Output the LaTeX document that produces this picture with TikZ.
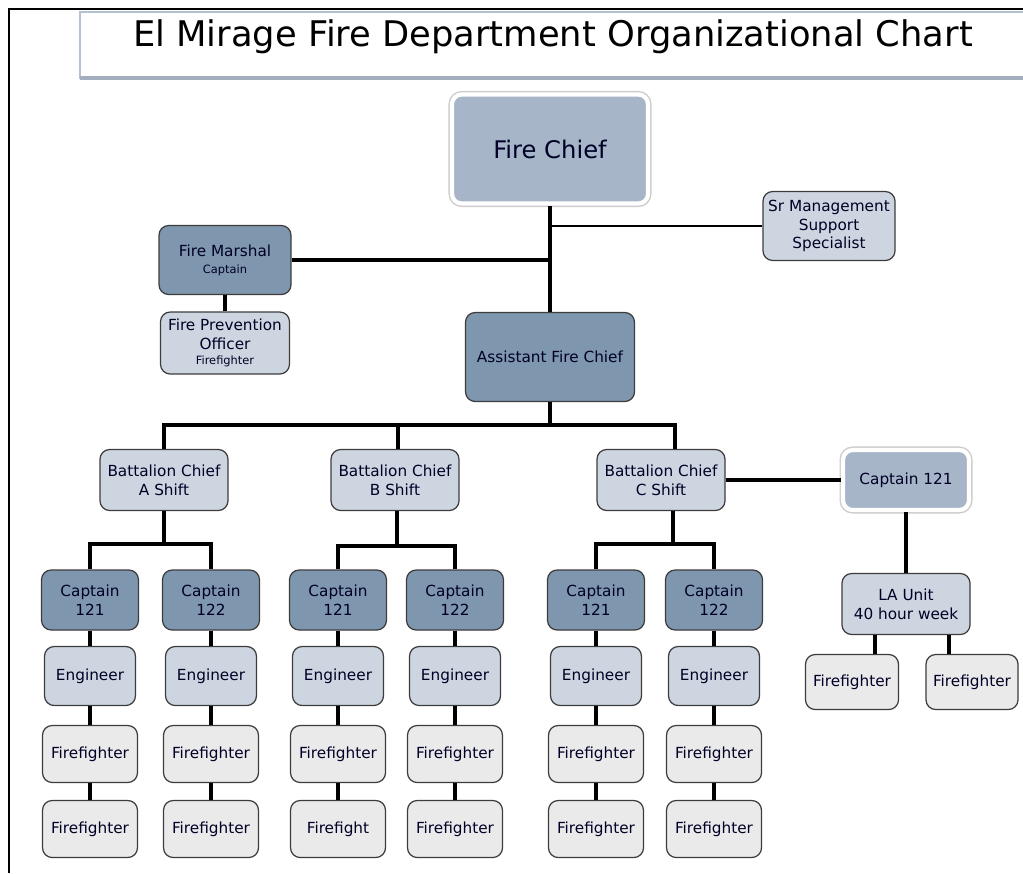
\documentclass[tikz,border=0pt]{standalone}
\usepackage{fontspec}
\setmainfont{DejaVu Sans}
\usetikzlibrary{calc,positioning,shadows}
\definecolor{ChiefBlue}{HTML}{A6B5C8}
\definecolor{SteelBlue}{HTML}{7F96AF}
\definecolor{PaleBlue}{HTML}{CDD6E0}
\definecolor{PaleGray}{HTML}{EAEAEA}
\definecolor{Edge}{HTML}{3C3C3C}
\definecolor{TitleEdge}{HTML}{B4C1D2}
\tikzstyle{box}    = [shape=rectangle,rounded corners=5.5pt,draw=Edge,line width=0.7pt,align=center,inner sep=1pt,text=black!85!blue,font=\fontsize{8.7}{10.6}\selectfont]
\tikzstyle{senior} = [box,fill=SteelBlue]
\tikzstyle{staff}  = [box,fill=PaleBlue]
\tikzstyle{crew}   = [box,fill=PaleGray]
\tikzstyle{head}   = [box,fill=ChiefBlue,draw=white,line width=2.4pt,preaction={draw=black!20,line width=4pt},drop shadow={shadow xshift=1.2pt,shadow yshift=-1.4pt,fill=black!22}]
\tikzstyle{link}   = [line width=2.2pt]
\tikzset{boxsize/.style 2 args={minimum width=#1*0.02cm,minimum height=#2*0.02cm}}

\begin{document}
\begin{tikzpicture}[x=0.02cm,y=-0.02cm]
  \useasboundingbox (0,0) rectangle (1023,873);

  % Frame and title
  \draw[line width=1.1pt] (9,873) -- (9,9) -- (1023,9);
  \draw[draw=TitleEdge,line width=0.8pt,fill=white] (80,12) rectangle (1040,78);
  \draw[draw=TitleEdge!90!black,line width=1.8pt] (80,78) -- (1023,78);
  \node (title) at (553,37) {\fontsize{20.1}{22}\selectfont El Mirage Fire Department Organizational Chart};

  % Command staff
  \node[head,boxsize={196}{109},font=\fontsize{13.8}{16}\selectfont] (chief) at (550,149) {Fire Chief};
  \node[staff,boxsize={132}{69}] (srSpec) at (829,226) {Sr Management\\Support\\Specialist};
  \node[senior,boxsize={132}{69}] (marshal) at (225,260) {Fire Marshal\\[-1pt]{\fontsize{6.5}{7}\selectfont Captain}};
  \node[staff,boxsize={129}{62}] (prevOff) at (225,343) {Fire Prevention\\Officer\\[-2pt]{\fontsize{6.5}{7}\selectfont Firefighter}};
  \node[senior,boxsize={169}{89}] (asst) at (550,357) {Assistant Fire Chief};
  \draw[link] (chief.south) -- (asst.north);
  \draw[link,line width=1.6pt] (srSpec.west) -- (srSpec.west -| chief.south);
  \draw[link] (marshal.east) -- (marshal.east -| chief.south);
  \draw[link] (marshal) -- (prevOff);

  % Battalion chiefs
  \node[staff,boxsize={128}{61}] (bcA) at (164,480) {Battalion Chief\\A Shift};
  \node[staff,boxsize={128}{61}] (bcB) at (395,480) {Battalion Chief\\B Shift};
  \node[staff,boxsize={128}{61}] (bcC) at (661,480) {Battalion Chief\\C Shift};
  \draw[link] (asst.south) -- ++(0,23) coordinate (bus);
  \draw[link] (bcA.north) |- (bus) -| ([xshift=0.28cm]bcC.north);
  \draw[link] ([xshift=0.06cm]bcB.north) -- ([xshift=0.06cm]bcB.north |- bus);

  % Shift crews
  \foreach \col/\x/\num/\last in {A1/90/121/Firefighter,A2/211/122/Firefighter,
      B1/338/121/Firefight,B2/455/122/Firefighter,C1/596/121/Firefighter,C2/714/122/Firefighter} {
    \node[senior,boxsize={97}{60}] (cap\col) at (\x,600) {Captain\\\num};
    \node[staff,boxsize={91}{59}] (eng\col) at (\x,676) {Engineer};
    \node[crew,boxsize={95}{57}] (ffa\col) at (\x,754) {Firefighter};
    \node[crew,boxsize={95}{57}] (ffb\col) at (\x,829) {\last};
    \draw[link] (cap\col) -- (eng\col) -- (ffa\col) -- (ffb\col);
  }
  \foreach \s/\d/\dx in {A/33/0,B/35/2,C/33/12} {
    \draw[link] ([xshift=\dx*0.02cm]bc\s.south) -- ++(0,\d) coordinate (bus\s);
    \draw[link] (cap\s1.north) |- (bus\s) -| (cap\s2.north);
  }

  % LA unit
  \node[head,boxsize={126}{60}] (capR) at (906,480) {Captain 121};
  \node[staff,boxsize={128}{61}] (laUnit) at (906,604) {LA Unit\\40 hour week};
  \node[crew,boxsize={93}{55}] (ffLA1) at (852,682) {Firefighter};
  \node[crew,boxsize={92}{55}] (ffLA2) at (972,682) {Firefighter};
  \draw[link] (bcC.east) -- (capR.west);
  \draw[link] (capR) -- (laUnit);
  \draw[link] ([xshift=-0.62cm]laUnit.south) -- ([xshift=-0.62cm]laUnit.south |- ffLA1.north);
  \draw[link] ([xshift=0.86cm]laUnit.south) -- ([xshift=0.86cm]laUnit.south |- ffLA2.north);
\end{tikzpicture}
\end{document}
